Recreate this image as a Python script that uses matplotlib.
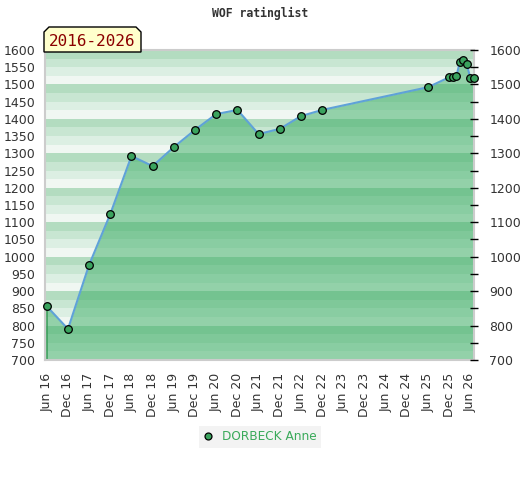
import datetime as dt

import matplotlib
matplotlib.use("Agg")
import matplotlib.pyplot as plt
import matplotlib.dates as mdates
from matplotlib.lines import Line2D
from matplotlib.patches import Polygon

# rating history of the player
dates = ["2016-06", "2016-12", "2017-06", "2017-12", "2018-06", "2018-12",
         "2019-06", "2019-12", "2020-06", "2020-12", "2021-06", "2021-12",
         "2022-06", "2022-12", "2025-06", "2025-12", "2026-01", "2026-02",
         "2026-03", "2026-04", "2026-05", "2026-06", "2026-07"]
ratings = [856, 790, 976, 1124, 1292, 1263, 1318, 1368, 1414, 1426, 1356, 1371,
           1408, 1426, 1492, 1521, 1521, 1525, 1564, 1571, 1558, 1518, 1518]
player = "DORBECK Anne"
period = "2016-2026"
title = "WOF ratinglist"

y_min, y_max = 700, 1600

x = [dt.datetime.strptime(d, "%Y-%m") for d in dates]

fig = plt.figure(figsize=(5.2, 4.8), dpi=100)
ax = fig.add_axes([45 / 520, 1 - 360 / 480, 429 / 520, 310 / 480])

# striped background, four shades per 100 points
shades = ["#b3dcc0", "#c8e6d2", "#dcefe3", "#f0f7f2"]
for top in range(y_max, y_min, -100):
    for k, c in enumerate(shades):
        ax.axhspan(top - 25 * (k + 1), top - 25 * k, color=c, lw=0, zorder=0)

ax.fill_between(x, ratings, y_min, color=(55 / 255, 172 / 255, 98 / 255),
                alpha=0.5, lw=0, zorder=1)
ax.vlines([x[0], x[-1]], y_min, [ratings[0], ratings[-1]], color="#3a9d5a",
          lw=1.2, zorder=2)
ax.plot(x, ratings, color="#5fa2d8", lw=1.5, zorder=3)
ax.plot(x, ratings, ls="none", marker="o", ms=5.5, mfc="#3aa35e", mec="black",
        mew=0.9, zorder=4, clip_on=False)

ax.set_xlim(dt.datetime(2016, 5, 17), dt.datetime(2026, 7, 2))
ax.set_ylim(y_min, y_max)

ticks = []
for yr in range(2016, 2027):
    ticks.append(dt.datetime(yr, 6, 1))
    if yr < 2026:
        ticks.append(dt.datetime(yr, 12, 1))
ax.set_xticks(ticks)
ax.xaxis.set_major_formatter(mdates.DateFormatter("%b %y"))
ax.set_yticks(range(y_min, y_max + 1, 50))
ax.tick_params(axis="x", length=0, pad=9, labelrotation=90, labelsize=9,
               labelcolor="#333333")
ax.tick_params(axis="y", length=0, pad=7, labelsize=9, labelcolor="#333333")

for s in ax.spines.values():
    s.set_color("#cccccc")
    s.set_linewidth(1.5)

ax2 = ax.twinx()
ax2.set_ylim(y_min, y_max)
ax2.set_yticks(range(y_min, y_max + 1, 100))
ax2.set_yticks(range(y_min + 50, y_max, 100), minor=True)
ax2.tick_params(axis="y", which="both", direction="inout", length=6,
                width=1, color="black", pad=8, labelsize=9, labelcolor="#333333")
for s in ax2.spines.values():
    s.set_visible(False)

fig.text(0.5, 1 - 13 / 480, title, ha="center", va="center",
         family="DejaVu Sans Mono", weight="bold", fontsize=8.3,
         color="#333333")

# period label with cut top corners
bx0, bx1, by0, by1 = 44 / 520, 141 / 520, 1 - 52 / 480, 1 - 27 / 480
cx, cy = 5 / 520, 5 / 480
tag = Polygon([(bx0, by0), (bx0, by1 - cy), (bx0 + cx, by1), (bx1 - cx, by1),
               (bx1, by1 - cy), (bx1, by0)], closed=True, transform=fig.transFigure,
              facecolor="#ffffcc", edgecolor="black", lw=1, zorder=5)
fig.patches.append(tag)
fig.text((bx0 + bx1) / 2, 1 - 41 / 480, period, ha="center", va="center",
         family="DejaVu Sans Mono", fontsize=11.5, color="#8b0000", zorder=6)

handle = Line2D([], [], ls="none", marker="o", ms=5, mfc="#3aa35e", mec="black",
                mew=0.9)
leg = fig.legend([handle], [player], loc="center", bbox_to_anchor=(260 / 520, 1 - 437 / 480),
                 frameon=True, fancybox=False, fontsize=8.7, handlelength=0.8,
                 handletextpad=0.8, borderpad=0.35, borderaxespad=0,
                 labelcolor="#3aaa5a")
leg.get_frame().set_facecolor("#f0f0f0")
leg.get_frame().set_edgecolor("none")

fig.savefig("out.png", dpi=100)
